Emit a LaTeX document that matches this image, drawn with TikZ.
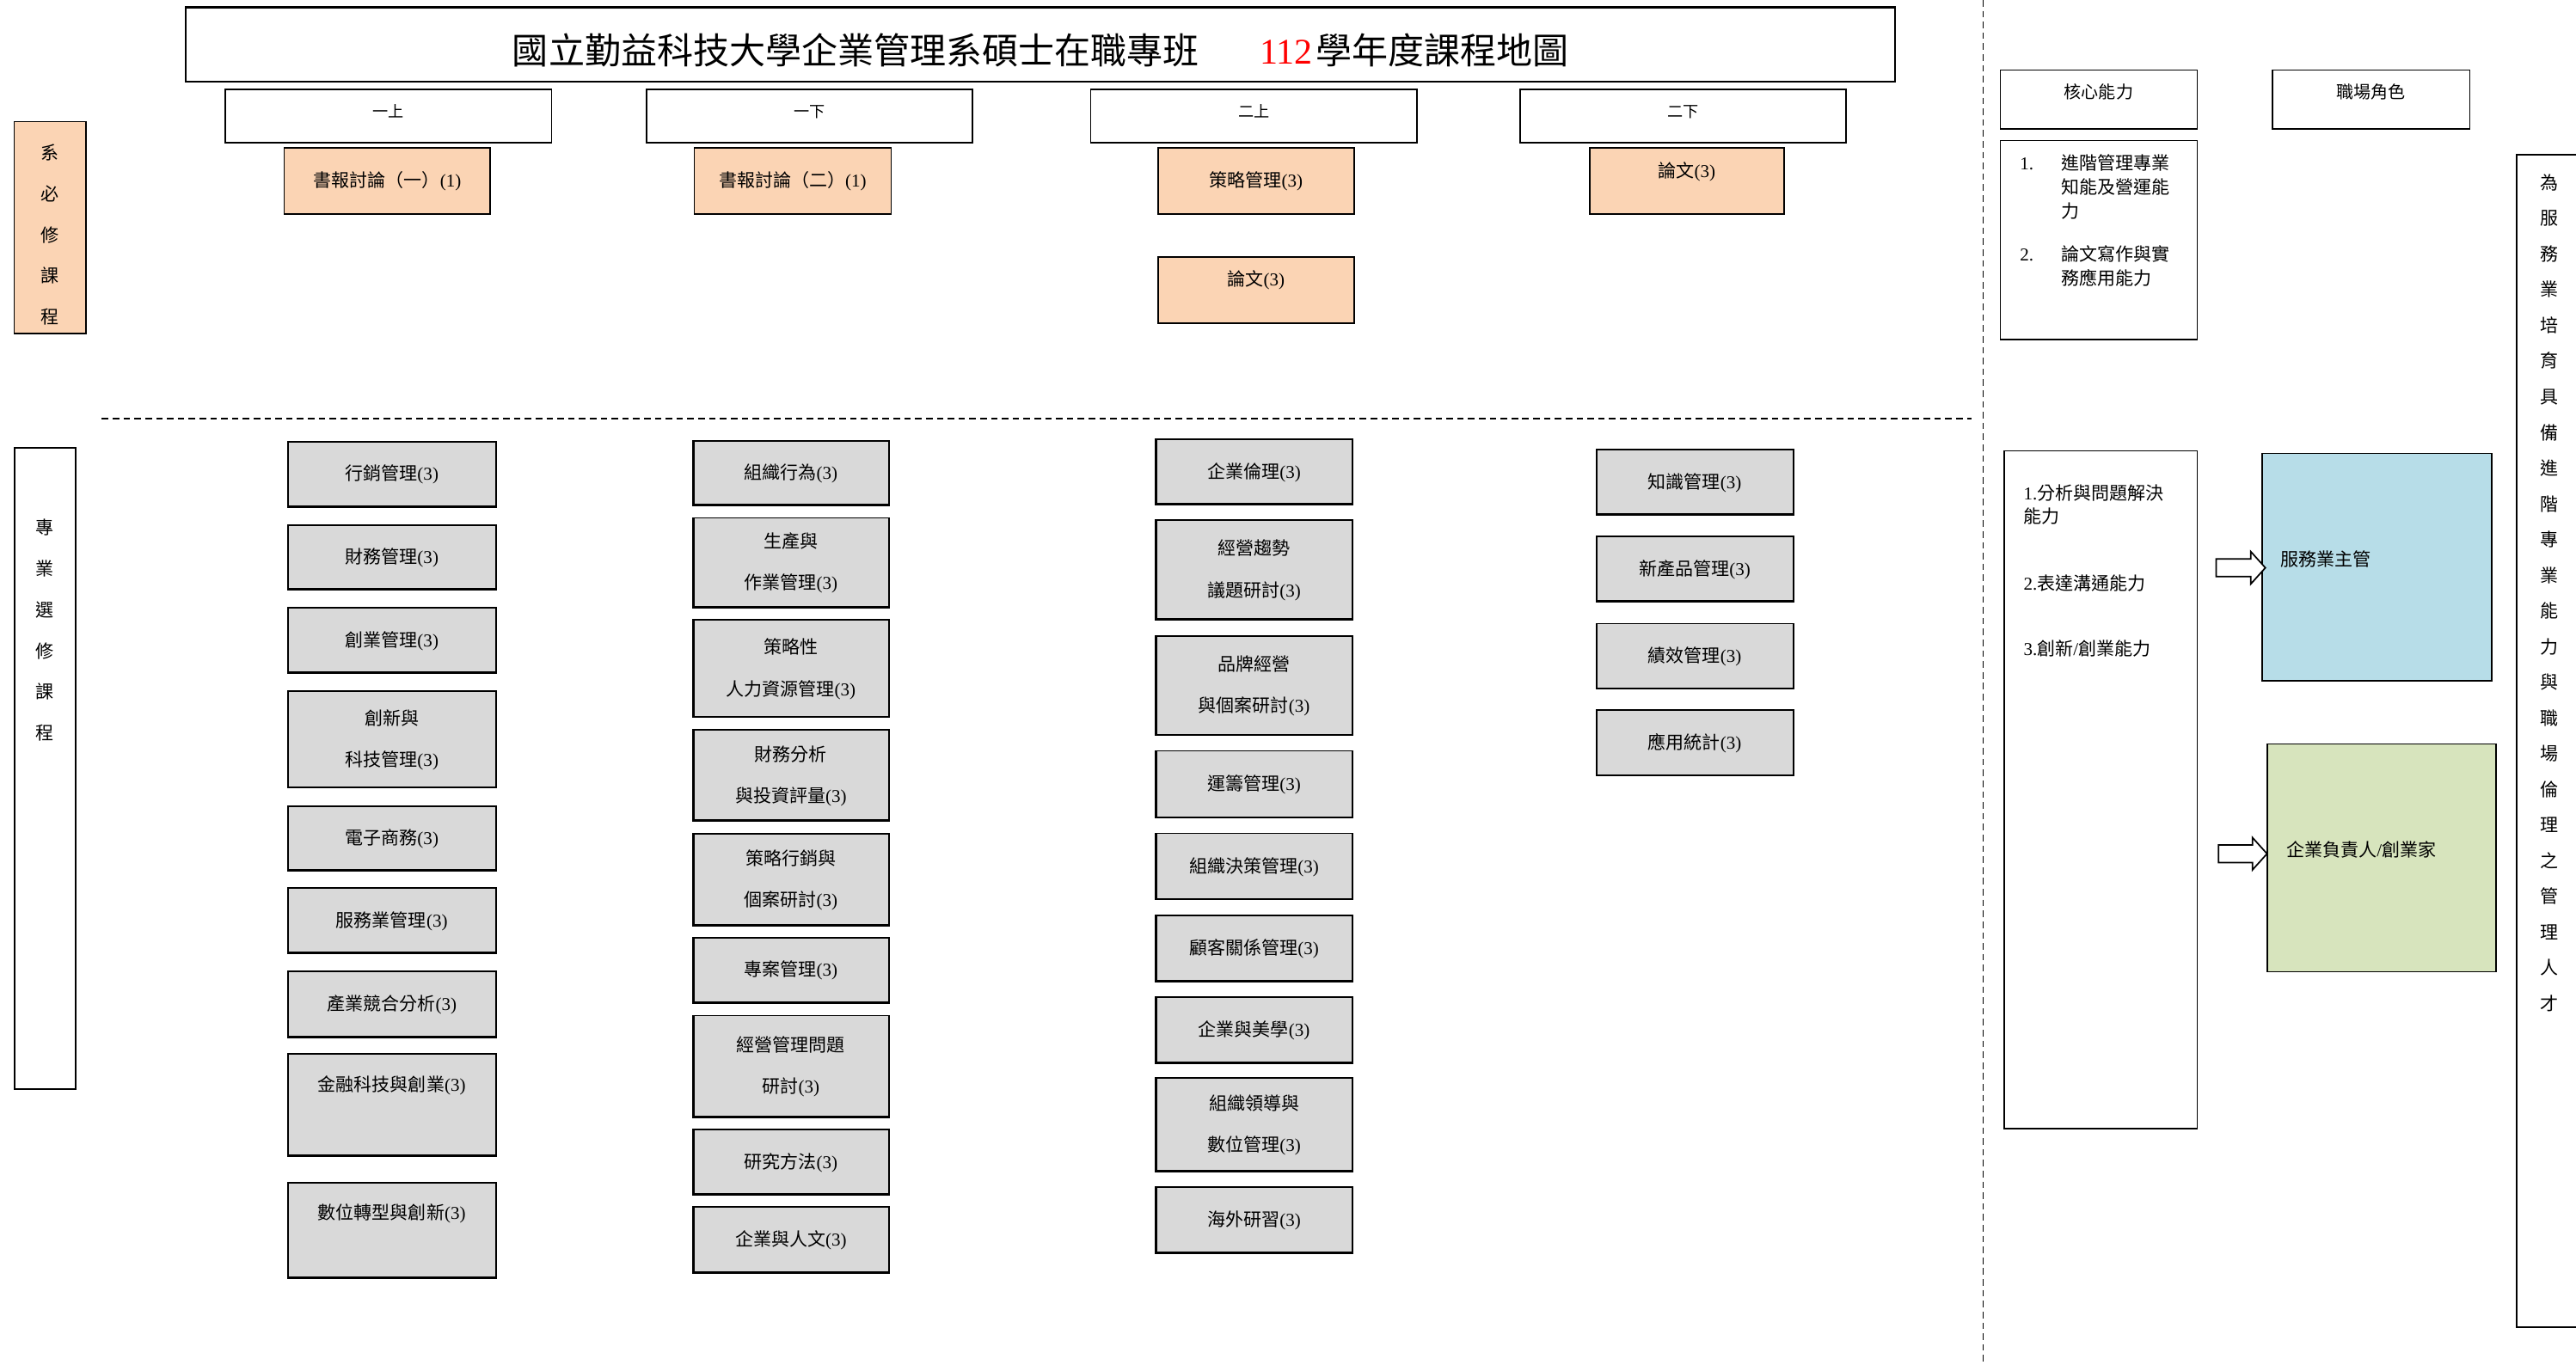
\documentclass[tikz,border=0pt]{standalone}
\usepackage{fontspec}
\setmainfont{Liberation Serif}
\newfontfamily\cjk{Noto Sans CJK TC}
\usetikzlibrary{shapes.arrows}
\definecolor{reqfill}{HTML}{FBD4B4}
\definecolor{elefill}{HTML}{D9D9D9}
\definecolor{roleA}{HTML}{B7DDE8}
\definecolor{roleB}{HTML}{D7E4BD}
\newcommand\zh[1]{{\cjk\rule[-0.12em]{0pt}{1em}#1}}
\newcommand\mkbox[7]{\node[#1,minimum width={(#4)-(#3)},minimum height={(#6)-(#5)}] (#2) at ({((#3)+(#4))/2},{((#5)+(#6))/2}) {#7};}
\tikzset{
  base/.style={draw=black, line width=0.9pt, align=center, inner sep=0pt, outer sep=0pt},
  sembox/.style={base, font=\fontsize{9.5}{12}\selectfont, text depth=7.1pt},
  reqbox/.style={base, fill=reqfill, font=\fontsize{11}{25}\selectfont},
  edgy/.style={path picture={\draw[line width=2pt] (path picture bounding box.north west) -- (path picture bounding box.south west) -- (path picture bounding box.south east);}},
  elebox/.style={base, fill=elefill, edgy, font=\fontsize{11}{25.3}\selectfont},
  hdbox/.style={base, font=\fontsize{10.5}{13}\selectfont, text depth=10.86pt},
  plainbox/.style={base},
  vtext/.style={align=center, inner sep=0pt, font=\fontsize{11}{25}\selectfont},
  blockarrow/.style={single arrow, draw=black, fill=white, line width=0.9pt, inner sep=4.9pt, single arrow head extend=4.5pt, single arrow tip angle=96},
  sep/.style={line width=0.8pt, dash pattern=on 4pt off 2.6pt}
}
\begin{document}
\begin{tikzpicture}[x=1pt, y=-1pt, font=\fontsize{11}{13}\selectfont]
\useasboundingbox (0,0) rectangle (1568,830.6);
% title
\node[draw=black, line width=1.2pt, minimum width=1040.4, minimum height=45.3, inner sep=0pt] (title) at (633.1,27.05) {};
\node[inner sep=0pt, font=\fontsize{22}{26}\selectfont] (titletext) at (633.5,30.5) {\zh{國立勤益科技大學企業管理系碩士在職專班}\hspace{37pt}\textcolor{red}{112}\hspace{2pt}\zh{學年度課程地圖}};
% semester headers
\mkbox{sembox}{s1}{137.3}{335.8}{54.6}{86.9}{\zh{一上}}
\mkbox{sembox}{s2}{393.5}{591.8}{54.6}{86.9}{\zh{一下}}
\mkbox{sembox}{s3}{663.9}{862.4}{54.6}{86.9}{\zh{二上}}
\mkbox{sembox}{s4}{925.2}{1123.8}{54.6}{86.9}{\zh{二下}}
% required
\mkbox{reqbox}{r1}{173}{298.5}{90.2}{130.3}{\zh{書報討論（一）}(1)}
\mkbox{reqbox}{r2}{422.6}{542.4}{90.2}{130.3}{\zh{書報討論（二）}(1)}
\mkbox{reqbox}{r3}{704.9}{824.2}{90.2}{130.3}{\zh{策略管理}(3)}
\mkbox{reqbox,text depth=14.3pt}{r4}{704.9}{824.2}{156.5}{196.6}{\zh{論文}(3)}
\mkbox{reqbox,text depth=13.7pt}{r5}{967.6}{1086}{90.2}{130.3}{\zh{論文}(3)}
% left labels
\node[base, fill=reqfill, minimum width=43.6, minimum height=129] (lreq) at (30.5,138.5) {};
\node[vtext] (lreqt) at (30.5,143) {\zh{系}\\\zh{必}\\\zh{修}\\\zh{課}\\\zh{程}};
\node[base, minimum width=37.2, minimum height=390.3] (lele) at (27.6,467.85) {};
\node[vtext] (lelet) at (27.4,383.75) {\zh{專}\\\zh{業}\\\zh{選}\\\zh{修}\\\zh{課}\\\zh{程}};
% separators
\coordinate (hl) at (62,255);
\coordinate (hr) at (1200,255);
\coordinate (vt) at (1207,0);
\coordinate (vb) at (1207,830.6);
\draw[sep] (hl) -- (hr);
\draw[sep] (vt) -- (vb);
% electives column 1
\mkbox{elebox}{e11}{175}{302}{269}{308.6}{\zh{行銷管理}(3)}
\mkbox{elebox}{e12}{175}{302}{319.7}{358.9}{\zh{財務管理}(3)}
\mkbox{elebox}{e13}{175}{302}{370}{410}{\zh{創業管理}(3)}
\mkbox{elebox}{e14}{175}{302}{420.7}{479.7}{\zh{創新與}\\\zh{科技管理}(3)}
\mkbox{elebox}{e15}{175}{302}{490.8}{530}{\zh{電子商務}(3)}
\mkbox{elebox}{e16}{175}{302}{540.8}{580.4}{\zh{服務業管理}(3)}
\mkbox{elebox}{e17}{175}{302}{591.5}{631.7}{\zh{產業競合分析}(3)}
\mkbox{elebox,text depth=27pt}{e18}{175}{302}{641.8}{703.9}{\zh{金融科技與創業}(3)}
\mkbox{elebox,text depth=24pt}{e19}{175}{302}{720.3}{778.4}{\zh{數位轉型與創新}(3)}
% column 2
\mkbox{elebox}{e21}{421.8}{541}{268.3}{307.9}{\zh{組織行為}(3)}
\mkbox{elebox}{e22}{421.8}{541}{315.3}{370}{\zh{生產與}\\\zh{作業管理}(3)}
\mkbox{elebox}{e23}{421.8}{541}{377.4}{436.8}{\zh{策略性}\\\zh{人力資源管理}(3)}
\mkbox{elebox}{e24}{421.8}{541}{444.5}{499.9}{\zh{財務分析}\\\zh{與投資評量}(3)}
\mkbox{elebox}{e25}{421.8}{541}{507.6}{563.6}{\zh{策略行銷與}\\\zh{個案研討}(3)}
\mkbox{elebox}{e26}{421.8}{541}{571}{610.6}{\zh{專案管理}(3)}
\mkbox{elebox}{e27}{421.8}{541}{618.3}{680.4}{\zh{經營管理問題}\\\zh{研討}(3)}
\mkbox{elebox}{e28}{421.8}{541}{687.8}{727.4}{\zh{研究方法}(3)}
\mkbox{elebox}{e29}{421.8}{541}{734.8}{775}{\zh{企業與人文}(3)}
% column 3
\mkbox{elebox}{e31}{703.5}{823.3}{267.5}{307.4}{\zh{企業倫理}(3)}
\mkbox{elebox}{e32}{703.5}{823.3}{316.8}{377.2}{\zh{經營趨勢}\\\zh{議題研討}(3)}
\mkbox{elebox}{e33}{703.5}{823.3}{387.3}{447.7}{\zh{品牌經營}\\\zh{與個案研討}(3)}
\mkbox{elebox}{e34}{703.5}{823.3}{457.1}{498}{\zh{運籌管理}(3)}
\mkbox{elebox}{e35}{703.5}{823.3}{507.4}{547.7}{\zh{組織決策管理}(3)}
\mkbox{elebox}{e36}{703.5}{823.3}{557.4}{597.7}{\zh{顧客關係管理}(3)}
\mkbox{elebox}{e37}{703.5}{823.3}{607.1}{647.3}{\zh{企業與美學}(3)}
\mkbox{elebox}{e38}{703.5}{823.3}{656.4}{713.4}{\zh{組織領導與}\\\zh{數位管理}(3)}
\mkbox{elebox}{e39}{703.5}{823.3}{722.9}{763.1}{\zh{海外研習}(3)}
% column 4
\mkbox{elebox}{e41}{971.6}{1091.6}{273.8}{313.6}{\zh{知識管理}(3)}
\mkbox{elebox}{e42}{971.6}{1091.6}{326.7}{366.3}{\zh{新產品管理}(3)}
\mkbox{elebox}{e43}{971.6}{1091.6}{379.7}{419.5}{\zh{績效管理}(3)}
\mkbox{elebox}{e44}{971.6}{1091.6}{432.2}{472.4}{\zh{應用統計}(3)}
% right part
\mkbox{hdbox}{core}{1217.6}{1337.4}{42.7}{78.5}{\zh{核心能力}}
\mkbox{hdbox}{role}{1383.4}{1503.3}{42.7}{78.5}{\zh{職場角色}}
\mkbox{plainbox}{corelist}{1217.6}{1337.4}{85.5}{206.7}{}
\node[anchor=north west, inner sep=0pt, font=\fontsize{11}{14.5}\selectfont] (corelistt) at (1229.3,93.25) {\begin{tabular}{@{}p{25.2pt}@{}l@{}}
1. & \zh{進階管理專業}\\
 & \zh{知能及營運能}\\
 & \zh{力}\\[11.7pt]
2. & \zh{論文寫作與實}\\
 & \zh{務應用能力}
\end{tabular}};
\mkbox{plainbox}{abil}{1220}{1337.5}{274.5}{687}{}
\node[anchor=north west, align=left, inner sep=0pt, font=\fontsize{11}{14}\selectfont] (abilt) at (1231.6,294.7) {1.\zh{分析與問題解決}\\\zh{能力}\\[26.8pt]2.\zh{表達溝通能力}\\[25.8pt]3.\zh{創新}/\zh{創業能力}};
\mkbox{plainbox,fill=roleA}{ra}{1377}{1516.6}{276}{414.6}{}
\node[anchor=west, inner sep=0pt] (rat) at (1388,340.6) {\zh{服務業主管}};
\mkbox{plainbox,fill=roleB}{rb}{1380}{1519.4}{453}{591.7}{}
\node[anchor=west, inner sep=0pt] (rbt) at (1391.6,517.4) {\zh{企業負責人}/\zh{創業家}};
\node[blockarrow, minimum height=29.9] (ar1) at (1361.55,345.7) {};
\node[blockarrow, minimum height=29.5] (ar2) at (1362.75,519.8) {};
\mkbox{plainbox}{goal}{1532}{1575}{94.2}{808}{}
\node[vtext, font=\fontsize{11}{21.73}\selectfont] (goalt) at (1551.6,361.05) {\zh{為}\\\zh{服}\\\zh{務}\\\zh{業}\\\zh{培}\\\zh{育}\\\zh{具}\\\zh{備}\\\zh{進}\\\zh{階}\\\zh{專}\\\zh{業}\\\zh{能}\\\zh{力}\\\zh{與}\\\zh{職}\\\zh{場}\\\zh{倫}\\\zh{理}\\\zh{之}\\\zh{管}\\\zh{理}\\\zh{人}\\\zh{才}};
\end{tikzpicture}
\end{document}
